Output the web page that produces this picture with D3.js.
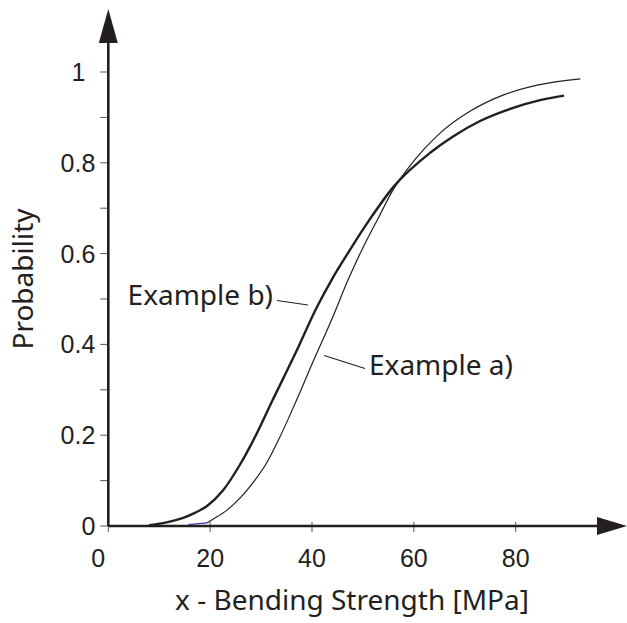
<!DOCTYPE html>
<html>
<head>
<meta charset="utf-8">
<script src="https://cdn.jsdelivr.net/npm/d3@7"></script>
<style>
  html, body { margin: 0; padding: 0; background: #fff; }
  svg { display: block; }
</style>
</head>
<body>
<svg id="chart" width="627" height="623"></svg>
<script>
// Cumulative distribution of bending strength for two example samples
const xTicks = [0, 20, 40, 60, 80];
const yMajorTicks = [0, 0.2, 0.4, 0.6, 0.8, 1];
const yMinorTicks = [0.1, 0.3, 0.5, 0.7, 0.9];
const yTickLabels = ["0", "0.2", "0.4", "0.6", "0.8", "1"];

// Example a) – empirical CDF (thin line)
const strengthA = [0, 15.7, 19.4, 20.4, 23.3, 25.9, 28.8, 31.2, 33.7, 36.8, 40.6, 44.0, 47.0, 50.0, 53.0, 56.0, 59.0, 62.0, 65.2, 71.1, 77.5, 84.2, 92.7];
const probA     = [0, 0.003, 0.007, 0.014, 0.035, 0.062, 0.101, 0.141, 0.196, 0.273, 0.372, 0.458, 0.54, 0.613, 0.678, 0.742, 0.79, 0.83, 0.866, 0.914, 0.949, 0.971, 0.985];

// Example b) – fitted distribution (heavy line)
const strengthB = [0, 8, 11, 14.7, 17.0, 19.4, 22.5, 25.9, 28.8, 32.3, 36.6, 41.0, 44.0, 47.0, 51.5, 56.0, 63.2, 67.7, 73.0, 79.5, 84.8, 89.5];
const probB     = [0, 0.002, 0.007, 0.018, 0.029, 0.044, 0.078, 0.136, 0.196, 0.278, 0.377, 0.483, 0.545, 0.6, 0.678, 0.747, 0.822, 0.858, 0.892, 0.921, 0.938, 0.948];

const INK = "#231f20";
const svg = d3.select("#chart");

const x = d3.scaleLinear().domain([0, 80]).range([108.3, 515.7]);
const y = d3.scaleLinear().domain([0, 1]).range([526, 72]);

const x0 = x(0), y0 = y(0);

// y ticks (left side, major + minor)
svg.append("g").selectAll("line")
  .data(yMajorTicks.concat(yMinorTicks))
  .join("line")
  .attr("x1", x0 - 8).attr("x2", x0)
  .attr("y1", d => y(d)).attr("y2", d => y(d))
  .attr("stroke", "#555").attr("stroke-width", 1);

// x ticks crossing the axis
svg.append("g").selectAll("line")
  .data(xTicks)
  .join("line")
  .attr("x1", d => x(d)).attr("x2", d => x(d))
  .attr("y1", y0 - 4).attr("y2", y0 + 6)
  .attr("stroke", "#555").attr("stroke-width", 1);

// tick labels
const tickFont = "'Liberation Sans', Arial, sans-serif";
svg.append("g").selectAll("text")
  .data(yMajorTicks)
  .join("text")
  .attr("x", d => d === 1 ? x0 - 23 : x0 - 13)
  .attr("y", d => y(d))
  .attr("dy", "0.36em")
  .attr("text-anchor", "end")
  .attr("font-family", tickFont).attr("font-size", 25)
  .attr("fill", INK)
  .text((d, i) => yTickLabels[i]);

svg.append("g").selectAll("text")
  .data(xTicks)
  .join("text")
  .attr("x", d => d === 0 ? x(d) - 10 : x(d))
  .attr("y", y0 + 41)
  .attr("text-anchor", "middle")
  .attr("font-family", tickFont).attr("font-size", 25)
  .attr("fill", INK)
  .text(d => d);

// axes with arrow heads
svg.append("line")
  .attr("x1", x0).attr("x2", x0).attr("y1", y0).attr("y2", 40)
  .attr("stroke", INK).attr("stroke-width", 2.6);
svg.append("line")
  .attr("x1", x0).attr("x2", 600).attr("y1", y0).attr("y2", y0)
  .attr("stroke", INK).attr("stroke-width", 2.6);
svg.append("path")
  .attr("d", `M${x0},9 L${x0 + 9.5},43 L${x0 - 9.5},43 Z`)
  .attr("fill", INK);
svg.append("path")
  .attr("d", `M627,${y0} L597,${y0 - 9} L597,${y0 + 9} Z`)
  .attr("fill", INK);

// curves
const line = d3.line()
  .x(d => x(d[0])).y(d => y(d[1]))
  .curve(d3.curveMonotoneX);

const dataA = strengthA.map((s, i) => [s, probA[i]]);
const dataB = strengthB.map((s, i) => [s, probB[i]]);

svg.append("path")
  .datum(dataA.slice(2))
  .attr("d", line)
  .attr("fill", "none").attr("stroke", INK).attr("stroke-width", 1.2);
svg.append("path")
  .datum(dataA.slice(1, 3))
  .attr("d", line)
  .attr("fill", "none").attr("stroke", "#3a3aa8").attr("stroke-width", 1.2);
svg.append("path")
  .datum(dataB.slice(1))
  .attr("d", line)
  .attr("fill", "none").attr("stroke", INK).attr("stroke-width", 2.4);

// annotations
const labelFont = "'Noto Sans', 'Open Sans', sans-serif";
svg.append("text")
  .attr("x", 273).attr("y", 305)
  .attr("text-anchor", "end")
  .attr("font-family", labelFont).attr("font-size", 28)
  .attr("fill", INK)
  .text("Example b)");
svg.append("line")
  .attr("x1", 277).attr("y1", 300.5).attr("x2", 308).attr("y2", 305)
  .attr("stroke", INK).attr("stroke-width", 1.2);

svg.append("text")
  .attr("x", 369).attr("y", 375)
  .attr("font-family", labelFont).attr("font-size", 28)
  .attr("fill", INK)
  .text("Example a)");
svg.append("line")
  .attr("x1", 324).attr("y1", 355.5).attr("x2", 365).attr("y2", 368.5)
  .attr("stroke", INK).attr("stroke-width", 1.2);

// axis titles
svg.append("text")
  .attr("x", 352).attr("y", 610)
  .attr("text-anchor", "middle")
  .attr("font-family", labelFont).attr("font-size", 28)
  .attr("fill", INK)
  .text("x - Bending Strength [MPa]");

svg.append("text")
  .attr("transform", "translate(33,279) rotate(-90)")
  .attr("text-anchor", "middle")
  .attr("font-family", labelFont).attr("font-size", 28)
  .attr("fill", INK)
  .text("Probability");
</script>
</body>
</html>
